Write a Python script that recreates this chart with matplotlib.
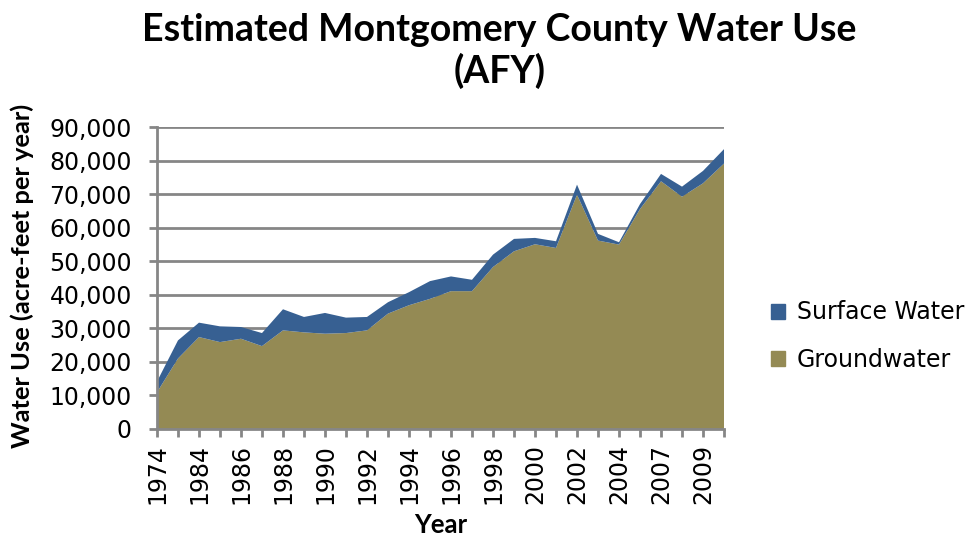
import matplotlib
matplotlib.use("Agg")
import matplotlib.pyplot as plt
from matplotlib.ticker import StrMethodFormatter
from matplotlib.patches import Patch
import numpy as np

# 年份（第2个和第24个类别在图上没有标签）
years = ["1974", "1980", "1984", "1985", "1986", "1987", "1988", "1989", "1990",
         "1991", "1992", "1993", "1994", "1995", "1996", "1997", "1998", "1999",
         "2000", "2001", "2002", "2003", "2004", "2005", "2007", "2008", "2009",
         "2010"]

# 地下水 (AFY)
groundwater = [10800, 20900, 27300, 25800, 26800, 24600, 29300, 28700, 28300,
               28500, 29300, 34300, 36800, 38700, 41000, 41000, 48200, 52900,
               55000, 53900, 69800, 56100, 54900, 65500, 73800, 69200, 73200,
               79100]

# 地表水 (AFY)
surface_water = [3200, 5400, 4300, 4700, 3500, 3900, 6300, 4600, 6200, 4600,
                 4000, 3400, 3900, 5300, 4400, 3400, 3700, 3700, 1900, 2000,
                 3000, 2000, 700, 1500, 2200, 3000, 3700, 4300]

blue = "#376092"
olive = "#948A54"
grey = "#868686"

fig = plt.figure(figsize=(9.66, 5.37), dpi=100)
ax = fig.add_axes([0.1625, 0.202, 0.587, 0.5615])

x = np.arange(len(years))
ax.stackplot(x, groundwater, surface_water, colors=[olive, blue], linewidth=0)

ax.set_xlim(0, len(years) - 1)
ax.set_ylim(0, 90000)
ax.set_yticks(np.arange(0, 90001, 10000))
ax.yaxis.set_major_formatter(StrMethodFormatter("{x:,.0f}"))
ax.set_xticks(x)
ax.set_xticklabels([y if i % 2 == 0 else "" for i, y in enumerate(years)],
                   rotation=90)

ax.grid(axis="y", color=grey, linewidth=2)
ax.set_axisbelow(True)
for s in ["top", "right"]:
    ax.spines[s].set_visible(False)
for s in ["left", "bottom"]:
    ax.spines[s].set_color(grey)
    ax.spines[s].set_linewidth(2)
ax.tick_params(axis="both", colors=grey, width=2, length=6, direction="out",
               labelcolor="black", labelsize=17)
ax.tick_params(axis="y", pad=12)
ax.tick_params(axis="x", pad=5)
for lab in ax.get_xticklabels() + ax.get_yticklabels():
    lab.set_fontfamily("DejaVu Sans")

fig.text(22 / 966, 1 - 276 / 537, "Water Use (acre-feet per year)",
         rotation=90, ha="center", va="center", fontfamily="Lato",
         fontweight="bold", fontsize=18.3)
fig.text(441 / 966, 1 - 525 / 537, "Year", ha="center", va="center",
         fontfamily="Lato", fontweight="bold", fontsize=18.5)

fig.text(0.517, 1 - 51 / 537, "Estimated Montgomery County Water Use\n(AFY)",
         ha="center", va="center", fontfamily="Lato", fontweight="bold",
         fontsize=27, linespacing=1.2)

handles = [Patch(color=blue, label="Surface Water"),
           Patch(color=olive, label="Groundwater")]
fig.legend(handles=handles, loc="center left", bbox_to_anchor=(0.798, 0.374),
           frameon=False, prop={"family": "DejaVu Sans", "size": 17},
           handlelength=0.6, handleheight=0.6, labelspacing=1.0,
           handletextpad=0.5, borderpad=0, borderaxespad=0)

fig.savefig("out.png", dpi=100)
